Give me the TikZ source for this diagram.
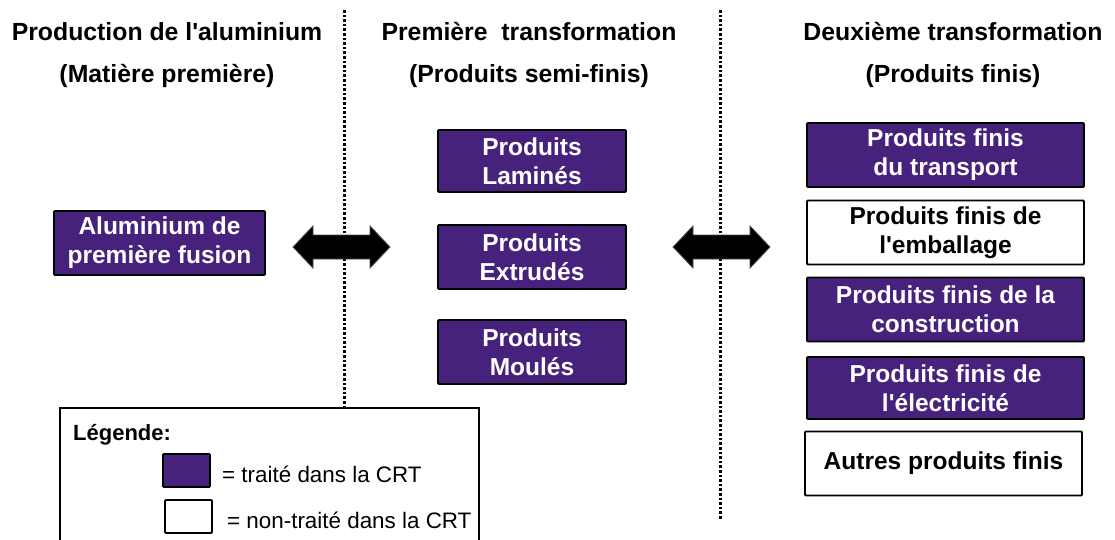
\documentclass[tikz,border=0pt]{standalone}
\usepackage{fontspec}
\setmainfont{Liberation Sans}[Ligatures=TeXOff]
\definecolor{crtpurple}{RGB}{71,34,124}
\begin{document}
\begin{tikzpicture}[x=1pt,y=-1pt,
  title/.style={font=\fontsize{24.8}{28}\selectfont\bfseries, inner sep=0pt},
  pbox/.style={draw=black, line width=1.8pt, fill=crtpurple, text=white, rounded corners=1pt,
    font=\fontsize{24.5}{29}\selectfont\bfseries, align=center, inner sep=0pt},
  wbox/.style={pbox, fill=white, text=black},
  sep/.style={line width=3pt, dash pattern=on 2.6pt off 2pt},
  barrow/.style={fill=black, draw=black!70, line width=0.8pt},
  legtext/.style={font=\fontsize{22.4}{26}\selectfont, anchor=west, inner sep=0pt}
]
\clip (0,0) rectangle (1115,540);
\fill[white] (0,0) rectangle (1115,540);

% titles
\node[title] (t1a) at (167,32) {Production de l'aluminium};
\node[title] (t1b) at (167,76) {(Matière première)};
\node[title] (t2a) at (529,32) {Première\ \ transformation};
\node[title] (t2b) at (529,76) {(Produits semi-finis)};
\node[title] (t3a) at (953,32) {Deuxième transformation};
\node[title] (t3b) at (953,76) {(Produits finis)};

% separators
\coordinate (s1top) at (344,10);
\coordinate (s1bot) at (344,408);
\coordinate (s2top) at (720,10);
\coordinate (s2bot) at (720,520);
\draw[sep] (s1top) -- (s1bot);
\draw[sep] (s2top) -- (s2bot);

% left column
\node[pbox, minimum width=211pt, minimum height=64pt] (alu) at (159.5,243) {Aluminium de\\première fusion};

% middle column
\node[pbox, minimum width=188pt, minimum height=62pt] (lam) at (532,161) {Produits\\Laminés};
\node[pbox, minimum width=188pt, minimum height=64pt] (ext) at (532,257) {Produits\\Extrudés};
\node[pbox, minimum width=188pt, minimum height=64pt] (mou) at (532,352) {Produits\\Moulés};

% right column
\node[pbox, minimum width=277pt, minimum height=64pt] (tra) at (945.5,155) {Produits finis\\du transport};
\node[wbox, minimum width=277pt, minimum height=64pt] (emb) at (945.5,232.5) {Produits finis de\\l'emballage};
\node[pbox, minimum width=277pt, minimum height=64pt] (con) at (945.5,309.5) {Produits finis de la\\construction};
\node[pbox, minimum width=277pt, minimum height=62pt] (ele) at (945.5,388) {Produits finis de\\l'électricité};
\node[wbox, minimum width=277pt, minimum height=64pt] (aut) at (943.5,463.5) {Autres produits finis};

% block double arrows
\coordinate (a1) at (341.5,247);
\coordinate (a2) at (721.5,247);
\foreach \c in {a1,a2}{
  \draw[barrow] ([xshift=-48.5pt]\c) -- ([xshift=-28.5pt,yshift=-21pt]\c) -- ([xshift=-28.5pt,yshift=-12pt]\c)
    -- ([xshift=28.5pt,yshift=-12pt]\c) -- ([xshift=28.5pt,yshift=-21pt]\c) -- ([xshift=48.5pt]\c)
    -- ([xshift=28.5pt,yshift=21pt]\c) -- ([xshift=28.5pt,yshift=12pt]\c) -- ([xshift=-28.5pt,yshift=12pt]\c)
    -- ([xshift=-28.5pt,yshift=21pt]\c) -- cycle;
}

% legend
\draw[line width=1.8pt] (60,560) -- (60,408) -- (479,408) -- (479,560);
\node[font=\fontsize{22}{26}\selectfont\bfseries, anchor=west, inner sep=0pt] (leg) at (73,435) {Légende:};
\node[pbox, minimum width=47pt, minimum height=33pt] (lp) at (186.5,470.5) {};
\node[legtext] (lpt) at (222,474) {= traité dans la CRT};
\node[wbox, minimum width=47pt, minimum height=33pt] (lw) at (188.5,516.5) {};
\node[legtext] (lwt) at (227,520) {= non-traité dans la CRT};
\end{tikzpicture}
\end{document}
